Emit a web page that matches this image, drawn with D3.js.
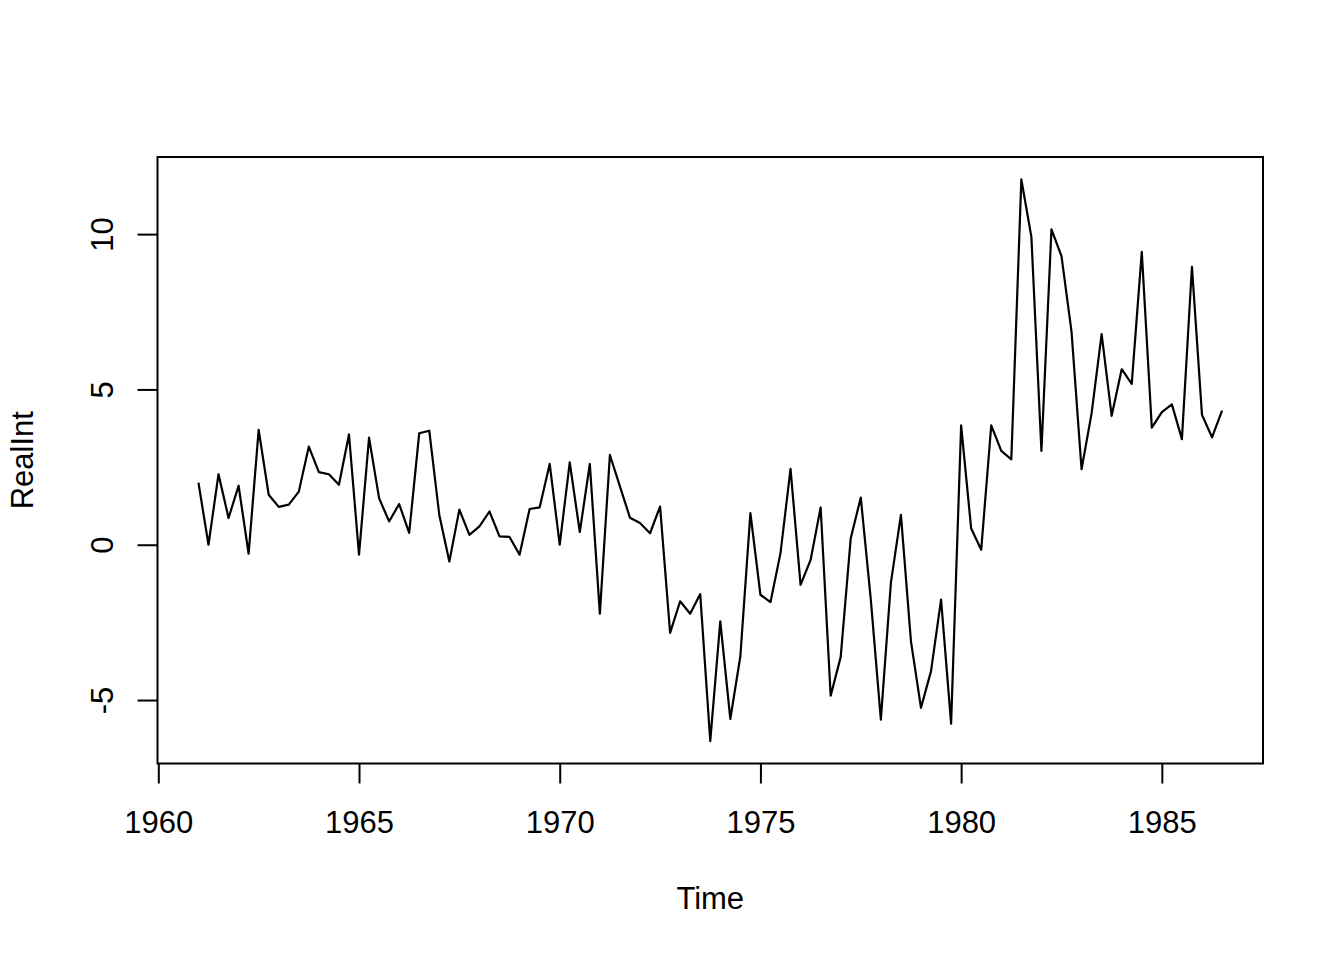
<!DOCTYPE html>
<html>
<head>
<meta charset="utf-8">
<script src="https://cdn.jsdelivr.net/npm/d3@7"></script>
<style>
    body { margin:0; background:white; }
    text { font-family:"Liberation Sans", Arial, Helvetica, sans-serif; fill:black; }
</style>
</head>
<body>
<svg id="chart"></svg>
<script>

// quarterly series, 1961 Q1 .. 1986 Q3
var startYear = 1961
var frequency = 4
var realInt = [
    2.00, 0.00, 2.27, 0.86, 1.90, -0.29, 3.70, 1.61, 1.22, 1.29,
    1.71, 3.16, 2.34, 2.27, 1.93, 3.55, -0.32, 3.45, 1.50, 0.75,
    1.31, 0.38, 3.59, 3.67, 0.96, -0.54, 1.13, 0.32, 0.59, 1.07,
    0.27, 0.25, -0.32, 1.15, 1.20, 2.60, 0.00, 2.65, 0.41, 2.60,
    -2.22, 2.89, 1.88, 0.87, 0.70, 0.37, 1.23, -2.84, -1.82, -2.22,
    -1.59, -6.32, -2.47, -5.61, -3.59, 1.02, -1.61, -1.85, -0.27, 2.44,
    -1.29, -0.49, 1.20, -4.86, -3.61, 0.21, 1.52, -1.77, -5.63, -1.23,
    0.96, -3.11, -5.25, -4.07, -1.77, -5.76, 3.84, 0.52, -0.16, 3.84,
    3.02, 2.75, 11.76, 9.91, 3.02, 10.15, 9.29, 6.86, 2.43, 4.23,
    6.78, 4.15, 5.65, 5.18, 9.43, 3.77, 4.27, 4.52, 3.40, 8.95,
    4.18, 3.46, 4.32
]
var xTicks = [1960, 1965, 1970, 1975, 1980, 1985]
var yTicks = [-5, 0, 5, 10]
var xTitle = "Time"
var yTitle = "RealInt"

var series = realInt.map(function(v, i)
    {
        return {time: startYear + i / frequency, value: v};
    })

// R style axis range: data range padded by 4% each side
var padRange = function(ext)
{
    var d = (ext[1] - ext[0]) * 0.04
    return [ext[0] - d, ext[1] + d]
}

// plain hyphen for negatives, like R
var plainLabel = function(d) { return String(d); }

var makeGraph = function(target, data)
{
    var screen = {width:1344, height:960}
    var box = {left:157.5, right:1263, top:157, bottom:763.5}

    target.attr("width", screen.width)
          .attr("height", screen.height)

    var xScale = d3.scaleLinear()
        .domain(padRange(d3.extent(data, function(d) { return d.time; })))
        .range([box.left, box.right])

    var yScale = d3.scaleLinear()
        .domain(padRange(d3.extent(data, function(d) { return d.value; })))
        .range([box.bottom, box.top])

    // series line
    var lineGenerator = d3.line()
        .x(function(d) { return xScale(d.time); })
        .y(function(d) { return yScale(d.value); })

    target.append("path")
        .datum(data)
        .attr("d", lineGenerator)
        .attr("fill", "none")
        .attr("stroke", "black")
        .attr("stroke-width", 2.2)
        .attr("stroke-linejoin", "round")

    // frame
    target.append("rect")
        .attr("x", box.left)
        .attr("y", box.top)
        .attr("width", box.right - box.left)
        .attr("height", box.bottom - box.top)
        .attr("fill", "none")
        .attr("stroke", "black")
        .attr("stroke-width", 2)

    // axes
    var xAxis = d3.axisBottom(xScale)
        .tickValues(xTicks)
        .tickSize(20)
        .tickPadding(0)
        .tickFormat(plainLabel)

    var gx = target.append("g")
        .attr("transform", "translate(0," + box.bottom + ")")
        .call(xAxis)
    gx.select(".domain").remove()
    gx.selectAll("line").attr("stroke-width", 2)
    gx.selectAll("text")
        .attr("y", 69)
        .attr("dy", null)
        .attr("font-size", 31)

    var yAxis = d3.axisLeft(yScale)
        .tickValues(yTicks)
        .tickSize(20)
        .tickFormat(plainLabel)

    var gy = target.append("g")
        .attr("transform", "translate(" + box.left + ",0)")
        .call(yAxis)
    gy.select(".domain").remove()
    gy.selectAll("line").attr("stroke-width", 2)
    gy.selectAll(".tick text")
        .attr("x", null)
        .attr("dy", null)
        .attr("text-anchor", "middle")
        .attr("font-size", 31)
        .attr("transform", "translate(-45,0) rotate(-90)")

    // labels
    target.append("text")
        .text(xTitle)
        .attr("text-anchor", "middle")
        .attr("font-size", 31)
        .attr("x", (box.left + box.right) / 2)
        .attr("y", 909)

    target.append("text")
        .text(yTitle)
        .attr("text-anchor", "middle")
        .attr("font-size", 31)
        .attr("transform", "translate(33," + ((box.top + box.bottom) / 2) + ") rotate(-90)")
}

makeGraph(d3.select("#chart"), series)

</script>
</body>
</html>
